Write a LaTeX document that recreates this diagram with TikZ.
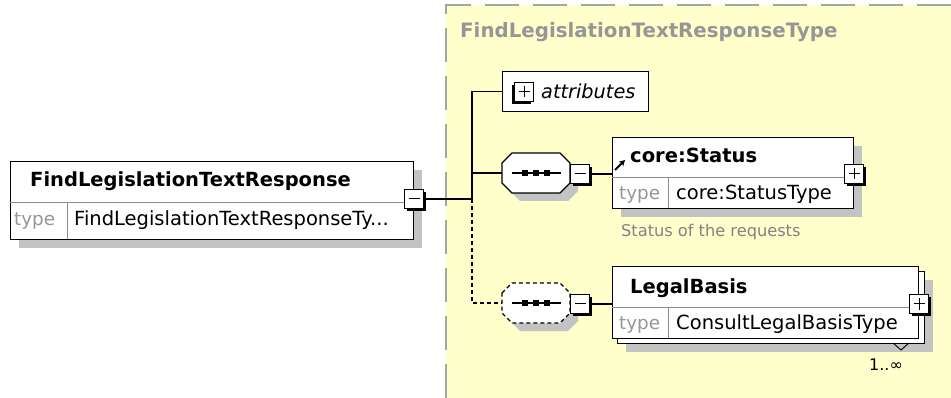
\documentclass[tikz,border=0pt]{standalone}
\usepackage{fontspec}
\setmainfont{DejaVu Sans}
\usetikzlibrary{calc,shadows,arrows.meta}
\definecolor{ybg}{RGB}{255,255,204}
\definecolor{dashgray}{RGB}{165,165,165}
\definecolor{shadowgray}{RGB}{195,195,195}
\definecolor{divgray}{RGB}{140,140,140}
\definecolor{typegray}{RGB}{150,150,150}
\definecolor{titlegray}{RGB}{150,150,150}
\definecolor{notegray}{RGB}{130,130,130}
\newcommand{\octpath}{(-34,-10) -- (-24,-20) -- (24,-20) -- (34,-10) -- (34,10) -- (24,20) -- (-24,20) -- (-34,10) -- cycle}
\begin{document}
\begin{tikzpicture}[x=1pt,y=-1pt,
  elbox/.style={draw=black, line width=1.3pt, fill=white, rectangle, inner sep=0pt, anchor=north west,
    drop shadow={shadow xshift=8pt, shadow yshift=-8pt, fill=shadowgray, opacity=1}},
  plainbox/.style={draw=black, line width=1.3pt, fill=white, rectangle, inner sep=0pt, anchor=north west},
  tog/.style={draw=black, line width=0.9pt, fill=white, minimum size=19pt, inner sep=0pt, rectangle,
    drop shadow={shadow xshift=2.2pt, shadow yshift=-2.2pt, fill=black, opacity=1}},
  togl/.style={draw=black, line width=0.9pt, fill=white, minimum size=19pt, inner sep=0pt, rectangle,
    drop shadow={shadow xshift=-2.2pt, shadow yshift=-2.2pt, fill=black, opacity=1}},
  minussign/.style={path picture={\draw[line width=1pt] ([xshift=4pt]path picture bounding box.west) -- ([xshift=-4pt]path picture bounding box.east);}},
  plussign/.style={path picture={\draw[line width=1pt] ([xshift=4pt]path picture bounding box.west) -- ([xshift=-4pt]path picture bounding box.east)
      ([yshift=-4pt]path picture bounding box.north) -- ([yshift=4pt]path picture bounding box.south);}},
  seqanchor/.style={rectangle, minimum width=68pt, minimum height=40pt, inner sep=0pt},
  octline/.style={draw=black, line width=1.3pt, fill=white},
  conn/.style={draw=black, line width=1.2pt},
  dconn/.style={draw=black, line width=1.2pt, dash pattern=on 4pt off 3pt},
  divline/.style={draw=divgray, line width=0.8pt},
  nametext/.style={anchor=base west, inner sep=0pt, font=\fontsize{19.5pt}{23pt}\selectfont\bfseries},
  typelabel/.style={anchor=base west, inner sep=0pt, text=typegray, font=\fontsize{18.3pt}{22pt}\selectfont},
  typetext/.style={anchor=base west, inner sep=0pt, font=\fontsize{19.5pt}{23pt}\selectfont},
  sqdot/.style={fill=black, minimum size=6pt, inner sep=0pt, rectangle}
]
\useasboundingbox (0,0) rectangle (951,398);
% complex type area
\fill[ybg] (446,5) rectangle (951,398);
\draw[dashgray, line width=2.2pt, dash pattern=on 34pt off 14pt] (446,398) -- (446,5) -- (951,5);
\node[anchor=base west, inner sep=0pt, text=titlegray, font=\fontsize{19.8pt}{23pt}\selectfont\bfseries] (title) at (460,38) {FindLegislationTextResponseType};

% main element
\node[elbox, minimum width=403pt, minimum height=78pt] (elem) at (10,161) {};
\draw[divline] (10,202) -- (413,202);
\draw[divline] (67,202) -- (67,239);
\node[nametext] (elemname) at (30,187) {FindLegislationTextResponse};
\node[typelabel] (elemtl) at (14,226) {type};
\node[typetext] (elemtype) at (74,226) {FindLegislationTextResponseTy...};
\node[tog, minussign] (elemtog) at (414,199) {};

% branch coordinates
\coordinate (bJ) at (472,199);

% attributes
\node[plainbox, minimum width=146pt, minimum height=40pt] (attr) at (502,71) {};
\node[togl, plussign] (attrtog) at (524,92) {};
\node[anchor=base west, inner sep=0pt, font=\fontsize{19.3pt}{22pt}\selectfont\itshape] (attrtext) at (541,99) {attributes};

% sequence 1
\begin{scope}[shift={(536,173)}]
  \fill[shadowgray, shift={(8,8)}] \octpath;
  \path[octline] \octpath;
  \draw[line width=1.5pt] (-24,0) -- (25,0);
\end{scope}
\node[seqanchor] (seq1) at (536,173) {};
\node[sqdot] (s1a) at (525,173) {};
\node[sqdot] (s1b) at (536,173) {};
\node[sqdot] (s1c) at (547,173) {};
\node[tog, minussign] (seq1tog) at (580,174) {};

% core:Status
\node[elbox, minimum width=241pt, minimum height=71pt] (status) at (612,137) {};
\draw[divline] (612,177) -- (853,177);
\draw[divline] (668,177) -- (668,208);
\node[nametext] (statusname) at (630,163) {core:Status};
\draw[line width=1.8pt, -{Stealth[length=6pt,width=6.5pt]}] (615,170) -- (625,160);
\node[typelabel] (statustl) at (619,200) {type};
\node[typetext] (statustype) at (676,200) {core:StatusType};
\node[tog, plussign] (statustog) at (854,174) {};
\node[anchor=base west, inner sep=0pt, text=notegray, font=\fontsize{16.2pt}{19pt}\selectfont] (statusnote) at (621,237) {Status of the requests};

% sequence 2 (optional)
\begin{scope}[shift={(536,303)}]
  \fill[shadowgray, shift={(8,8)}] \octpath;
  \path[octline, dash pattern=on 4pt off 3pt] \octpath;
  \draw[line width=1.5pt] (-24,0) -- (25,0);
\end{scope}
\node[seqanchor] (seq2) at (536,303) {};
\node[sqdot] (s2a) at (525,303) {};
\node[sqdot] (s2b) at (536,303) {};
\node[sqdot] (s2c) at (547,303) {};
\node[tog, minussign] (seq2tog) at (580,304) {};

% LegalBasis (multiple)
\node[elbox, minimum width=307pt, minimum height=72pt] (lbback) at (617,271) {};
\node[plainbox, minimum width=306pt, minimum height=72pt] (lb) at (612,266) {};
\draw[divline] (612,307) -- (918,307);
\draw[divline] (668,307) -- (668,338);
\node[nametext] (lbname) at (630,294) {LegalBasis};
\node[typelabel] (lbtl) at (619,330) {type};
\node[typetext] (lbtype) at (676,330) {ConsultLegalBasisType};
\node[tog, plussign] (lbtog) at (919,304) {};
\draw[line width=0.9pt] (893,343) -- (901,350) -- (909,343);
\node[anchor=base west, inner sep=0pt, font=\fontsize{16pt}{18pt}\selectfont] (lbcard) at (869,370) {1..∞};

% connectors
\draw[conn] (elemtog.east) -- (bJ);
\draw[conn] (attr.west) -| (bJ);
\draw[conn] (bJ |- seq1.west) -- (seq1.west);
\draw[conn] (seq1tog.east) -- (status.west |- seq1tog.east);
\draw[dconn] (bJ) |- (seq2.west);
\draw[conn] (seq2tog.east) -- (lb.west |- seq2tog.east);
\end{tikzpicture}
\end{document}
